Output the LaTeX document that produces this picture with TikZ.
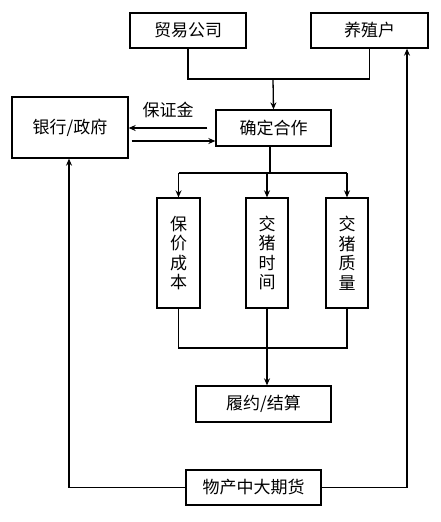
\documentclass[tikz,border=0pt]{standalone}
\usepackage{fontspec}
\newfontfamily\cjk{Noto Sans CJK SC}
\usetikzlibrary{arrows.meta}
\begin{document}
\begin{tikzpicture}[x=1pt,y=-1pt,
  box/.style={draw,line width=1.3pt,inner sep=0pt,font=\cjk\fontsize{17}{17}\selectfont},
  vbox/.style={box,align=center,font=\cjk\fontsize{17}{19.5}\selectfont},
  line/.style={line width=1.3pt},
  arr/.style={line width=1.3pt,-{Stealth[length=7pt,width=6pt]}}]
\useasboundingbox (0,0) rectangle (441,522);
\node[box,minimum width=116pt,minimum height=35pt] (trade) at (188,30.5) {贸易公司};
\node[box,minimum width=117pt,minimum height=35pt] (farm) at (369.5,30.5) {养殖户};
\node[box,minimum width=115pt,minimum height=36pt] (coop) at (273.5,128) {确定合作};
\node[box,minimum width=116pt,minimum height=61pt] (bank) at (70,127.5) {银行/政府};
\node[vbox,minimum width=43pt,minimum height=110pt] (b1) at (178.5,253) {保\\价\\成\\本};
\node[vbox,minimum width=42pt,minimum height=110pt] (b2) at (267,253) {交\\猪\\时\\间};
\node[vbox,minimum width=42pt,minimum height=110pt] (b3) at (347,253) {交\\猪\\质\\量};
\node[box,minimum width=135pt,minimum height=36pt] (settle) at (263.5,404) {履约/结算};
\node[box,minimum width=135pt,minimum height=35pt] (fut) at (253.5,487.5) {物产中大期货};
\coordinate (j1) at (273,79);
\coordinate (j2) at (270,173);
\coordinate (j3) at (267,348);
\draw[line] (trade.south) |- (j1) -| (farm.south);
\draw[arr] (j1) -- (coop.north);
\draw[arr] (coop.west |- 0,128) ++(-8,0) coordinate (ca) -- (bank.east |- ca);
\draw[arr] (bank.east |- 0,141) ++(3,0) coordinate (cb) -- (coop.west |- cb);
\node[font=\cjk\fontsize{17}{17}\selectfont] (dep) at (168,110) {保证金};
\draw[line] (coop.south -| j2) -- (j2);
\draw[line] (b1.north |- j2) -- (b3.north |- j2);
\draw[arr] (b1.north |- j2) -- (b1.north);
\draw[arr] (b2.north |- j2) -- (b2.north);
\draw[arr] (b3.north |- j2) -- (b3.north);
\draw[line] (b1.south) |- (j3) -| (b3.south);
\draw[line] (b2.south) -- (j3);
\draw[arr] (j3) -- (settle.north -| j3);
\draw[arr] (fut.west) -| (bank.south -| 69,0);
\draw[arr] (fut.east) -| (farm.south -| 407,0);
\end{tikzpicture}
\end{document}
